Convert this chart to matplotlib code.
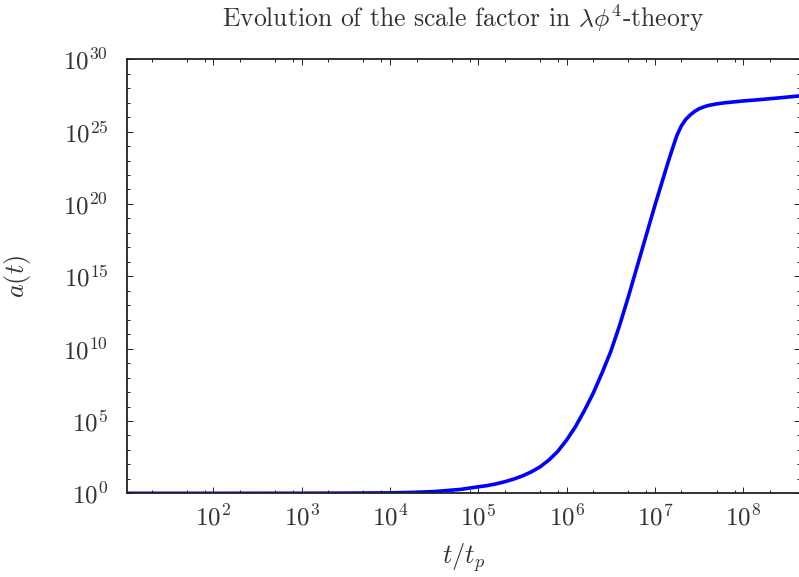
import matplotlib
matplotlib.use("Agg")
import matplotlib.pyplot as plt
import numpy as np
from matplotlib.ticker import LogLocator, NullFormatter, FuncFormatter

plt.rcParams['mathtext.fontset'] = 'cm'
plt.rcParams['font.family'] = 'serif'
plt.rcParams['font.serif'] = ['cmr10', 'DejaVu Serif']
plt.rcParams['axes.formatter.use_mathtext'] = True

# values: log10(t/t_p) and log10(a)
log_t = [1.0, 2.0, 3.0, 3.5, 4.0, 4.3, 4.5, 4.8, 5.0, 5.1, 5.2, 5.3, 5.4, 5.5,
         5.6, 5.7, 5.8, 5.9, 6.0, 6.1, 6.2, 6.3, 6.4, 6.5, 6.6, 6.7, 6.8,
         6.9, 7.0, 7.05, 7.1, 7.15, 7.2, 7.25, 7.3, 7.35, 7.4, 7.45, 7.5,
         7.55, 7.6, 7.7, 7.8, 8.0, 8.2, 8.4, 8.64]
log_a = [0.0, 0.0, 0.004, 0.012, 0.03, 0.07, 0.12, 0.27, 0.45, 0.53, 0.65, 0.8,
         0.98, 1.2, 1.48, 1.83, 2.3, 2.9, 3.68, 4.6, 5.7, 6.9, 8.3, 9.8, 11.6,
         13.6, 15.7, 17.8, 19.9, 20.9, 21.9, 22.9, 23.85, 24.75, 25.4, 25.85,
         26.15, 26.4, 26.58, 26.7, 26.8, 26.92, 27.0, 27.12, 27.22, 27.33, 27.47]

t = 10.0 ** np.array(log_t)
a = 10.0 ** np.array(log_a)

fig = plt.figure(figsize=(7.99, 5.77), dpi=100)
ax = fig.add_axes([127 / 799, (577 - 493.3) / 577, (800 - 127) / 799, (493.3 - 59.3) / 577])

ax.plot(t, a, color='blue', lw=2.6, solid_capstyle='butt')
ax.set_xscale('log')
ax.set_yscale('log')
ax.set_xlim(10.5, 4.4e8)
ax.set_ylim(1, 1e30)

ax.xaxis.set_major_locator(LogLocator(base=10, numticks=20))
ax.xaxis.set_minor_locator(LogLocator(base=10, subs=(2, 5, 8), numticks=20))
ax.xaxis.set_minor_formatter(NullFormatter())
ax.set_yticks([10.0 ** k for k in range(0, 31, 5)])
ax.set_yticks([10.0 ** k for k in range(0, 31)], minor=True)
ax.yaxis.set_minor_formatter(NullFormatter())

sci = FuncFormatter(lambda v, pos: r'$10^{%d}$' % int(round(np.log10(v))))
ax.xaxis.set_major_formatter(sci)
ax.yaxis.set_major_formatter(sci)

ax.spines['right'].set_visible(False)
for s in ['left', 'bottom', 'top']:
    ax.spines[s].set_linewidth(1.3)
    ax.spines[s].set_color('#222222')

ax.tick_params(which='both', direction='in', top=True, right=True, width=0.7, color='#222222')
ax.tick_params(which='major', length=4.5, labelsize=18, labelcolor='#333333')
ax.tick_params(which='minor', length=2.5)
ax.tick_params(axis='y', which='major', pad=13.5)
ax.tick_params(axis='x', which='major', pad=8)

ax.set_title(r'Evolution of the scale factor in $\lambda\phi^4$-theory', fontsize=18.5, pad=23, color='#333333')
ax.set_xlabel(r'$t/t_p$', fontsize=19, labelpad=8, color='#333333')
ax.set_ylabel(r'$a(t)$', fontsize=19, labelpad=22, color='#333333')

fig.savefig('out.png', dpi=100)
